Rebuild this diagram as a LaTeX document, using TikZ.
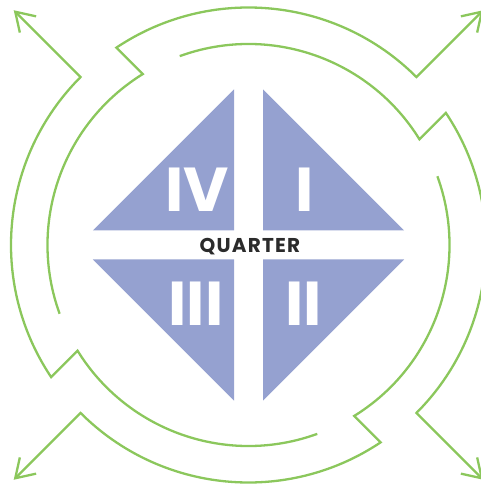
\documentclass[tikz,border=0pt]{standalone}
\usepackage{fontspec}
\setmainfont{Poppins}
\usepackage{xcolor}
\definecolor{cGreen}{HTML}{8BC75C}
\definecolor{cTri}  {HTML}{95A1D0}
\definecolor{cText} {HTML}{2B2B2B}
\usetikzlibrary{arrows.meta}
\tikzset{
  tri/.style  = {fill=cTri, draw=none},
  num/.style  = {text=white, anchor=base, inner sep=0pt,
                 font=\fontsize{62}{62}\selectfont\bfseries},
  lbl/.style  = {text=cText, anchor=base, inner sep=0pt,
                 font=\fontsize{20}{20}\selectfont\bfseries
                      \addfontfeatures{LetterSpace=6}},
  turn/.style = {draw=cGreen, line width=2.3pt, line join=miter,
                 -{Straight Barb[length=18pt, width=23pt]}},
}

\begin{document}
\begin{tikzpicture}[x=1pt, y=1pt]

  \useasboundingbox (-248.5,-239) rectangle (231.5,245);

  %% --- Quarter triangles ---
  \fill[tri] (14.5,14.5)   -- (14.5,155.5)   -- (155.5,14.5)   -- cycle;
  \fill[tri] (14.5,-14.5)  -- (14.5,-155.5)  -- (155.5,-14.5)  -- cycle;
  \fill[tri] (-14.5,-14.5) -- (-14.5,-155.5) -- (-155.5,-14.5) -- cycle;
  \fill[tri] (-14.5,14.5)  -- (-14.5,155.5)  -- (-155.5,14.5)  -- cycle;

  %% --- Labels ---
  \node[lbl] (quarter) at (1.5,-7.3)   {QUARTER};
  \node[num] (q1)      at (55.7,33.3)  {I};
  \node[num] (q2)      at (55,-80)     {II};
  \node[num] (q3)      at (-52.5,-80)  {III};
  \node[num] (q4)      at (-51.3,33.3) {IV};

  %% --- Turning arrows ---
  \draw[turn] (20:201) arc[start angle=20, end angle=-58.25, radius=201]
              -- (-56.2:237.5) arc[start angle=-56.2, end angle=-135, radius=237.5]
              -- (-135:332);
  \draw[turn] (110:201) arc[start angle=110, end angle=31.75, radius=201]
              -- (33.8:237.5) arc[start angle=33.8, end angle=-45, radius=237.5]
              -- (-45:332);
  \draw[turn] (200:201) arc[start angle=200, end angle=121.75, radius=201]
              -- (123.8:237.5) arc[start angle=123.8, end angle=45, radius=237.5]
              -- (45:332);
  \draw[turn] (290:201) arc[start angle=290, end angle=211.75, radius=201]
              -- (213.8:237.5) arc[start angle=213.8, end angle=135, radius=237.5]
              -- (135:332);

\end{tikzpicture}
\end{document}
